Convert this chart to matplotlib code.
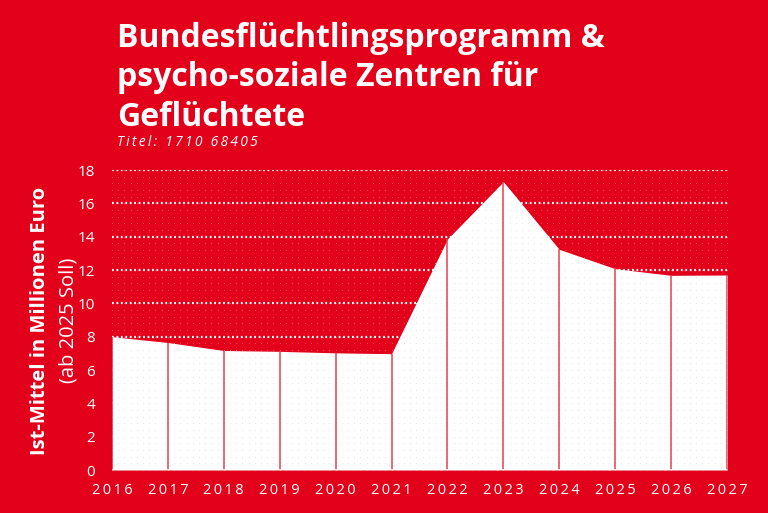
import numpy as np
import matplotlib
matplotlib.use("Agg")
import matplotlib.pyplot as plt

years = [2016, 2017, 2018, 2019, 2020, 2021, 2022, 2023, 2024, 2025, 2026, 2027]
mittel = [8.0, 7.65, 7.17, 7.12, 7.03, 6.98, 13.86, 17.3, 13.24, 12.08, 11.68, 11.7]
yticks = [0, 2, 4, 6, 8, 10, 12, 14, 16, 18]

title = "Bundesflüchtlingsprogramm &\npsycho-soziale Zentren für\nGeflüchtete"
subtitle = "Titel: 1710 68405"
ylabel_1 = "Ist-Mittel in Millionen Euro"
ylabel_2 = "(ab 2025 Soll)"

RED = "#e2001a"
plt.rcParams["font.family"] = ["Open Sans", "DejaVu Sans"]


def spaced(s, sep="\u2009"):
    # poor man's letter spacing
    return sep.join(s)


fig = plt.figure(figsize=(7.68, 5.13), dpi=100, facecolor=RED)
ax = fig.add_axes([0.1458, 0.0838, 0.8008, 0.5848])
ax.set_facecolor(RED)
ax.set_xlim(2016, 2027)
ax.set_ylim(0, 18)

# background dot texture
gx, gy = np.meshgrid(np.linspace(2016, 2027, 100), np.arange(0, 18.01, 0.4))
ax.scatter(gx.ravel(), gy.ravel(), s=0.6, color="#ee5560", lw=0, zorder=0)

for v in yticks[1:]:
    ax.axhline(v, color="white", lw=1.6, ls=(0, (0.8, 1.2)), zorder=1)

poly = ax.fill_between(years, mittel, 0, color="white", lw=0, zorder=2)
dots = ax.scatter(gx.ravel(), gy.ravel(), s=0.6, color="#e3e3e3", lw=0, zorder=3)
dots.set_clip_path(poly.get_paths()[0], transform=ax.transData)
ax.vlines(years, 0, mittel, color="#e6404f", lw=1.1, zorder=4)
ax.axhline(0, color="white", lw=1.2, zorder=5)

ax.set_xticks(years)
ax.set_xticklabels([spaced(str(y)) for y in years])
ax.set_yticks(yticks)
ax.tick_params(length=0, colors="white", labelsize=11)
ax.tick_params(axis="x", pad=9, labelsize=10.5)
ax.tick_params(axis="y", pad=12)
for s in ax.spines.values():
    s.set_visible(False)

fig.text(0.152, 0.957, title, color="white", fontsize=23, fontweight="bold",
         va="top", ha="left", linespacing=1.25)
fig.text(0.152, 0.722, spaced(subtitle), color="white", fontsize=10, style="italic",
         va="center", ha="left")
fig.text(0.052, 0.375, ylabel_1, color="white", fontsize=14.5, fontweight="bold",
         rotation=90, va="center", ha="center")
fig.text(0.089, 0.375, ylabel_2, color="white", fontsize=14.5,
         rotation=90, va="center", ha="center")

fig.savefig("out.png", dpi=100, facecolor=RED)
